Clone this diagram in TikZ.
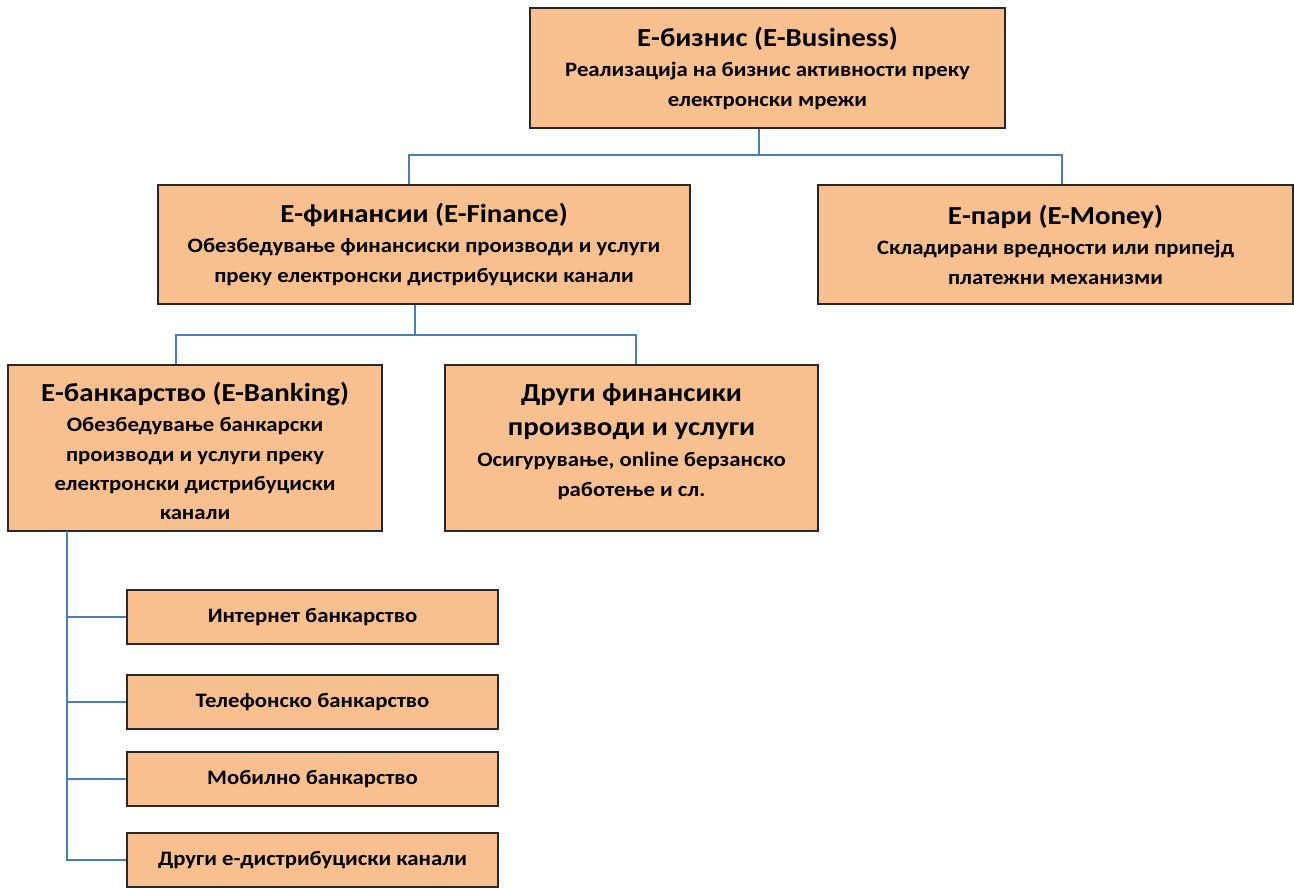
\documentclass[tikz,border=0pt]{standalone}
\usepackage{fontspec}
\setmainfont{Carlito}[FakeStretch=1.11]
\definecolor{boxfill}{RGB}{249,192,143}
\definecolor{linkblue}{RGB}{74,126,187}
\definecolor{boxedge}{RGB}{40,40,40}
\newcommand{\tlfont}[1]{{\fontsize{26}{32}\selectfont #1}}
\begin{document}
\begin{tikzpicture}[x=1pt,y=-1pt,
  box/.style={draw=boxedge,line width=1.2pt,fill=boxfill,rectangle,align=center,inner sep=0pt,font=\fontsize{20.5}{30}\selectfont\bfseries},
  conn/.style={draw=linkblue,line width=1.5pt},
  small/.style={box,minimum width=371pt,minimum height=54pt},
]
\useasboundingbox (0,0) rectangle (1294,887);
\node[box,minimum width=475pt,minimum height=120pt] (top) at (767.5,68)
  {\tlfont{Е-бизнис (E-Business)}\\Реализација на бизнис активности преку\\електронски мрежи};
\node[box,minimum width=532pt,minimum height=119pt] (fin) at (424,244.5)
  {\tlfont{Е-финансии (E-Finance)}\\Обезбедување финансиски производи и услуги\\преку електронски дистрибуциски канали};
\node[box,minimum width=475pt,minimum height=119pt] (money) at (1055.5,244.5)
  {\tlfont{Е-пари (E-Money)}\\Складирани вредности или припејд\\платежни механизми};
\node[box,minimum width=374pt,minimum height=166pt] (bank) at (195,448)
  {\tlfont{\rule{0pt}{26pt}Е-банкарство (E-Banking)}\\Обезбедување банкарски\\производи и услуги преку\\[-1pt]електронски дистрибуциски\\[-1pt]канали};
\node[box,minimum width=373pt,minimum height=166pt] (other) at (631.5,448)
  {\tlfont{Други финансики}\\[4pt]\tlfont{производи и услуги}\\[1pt]Осигурување, online берзанско\\работење и сл.\\[-15pt]\mbox{}};
\node[small] (s1) at (312.5,617) {Интернет банкарство};
\node[small] (s2) at (312.5,702) {Телефонско банкарство};
\node[small] (s3) at (312.5,779) {Мобилно банкарство};
\node[small] (s4) at (312.5,860) {Други е-дистрибуциски канали};
% connectors
\coordinate (j1) at (759,155);
\draw[conn] ([xshift=-8.5pt]top.south) -- (j1);
\draw[conn] ([xshift=-15pt]fin.north) |- (j1) -| ([xshift=6.5pt]money.north);
\coordinate (j2) at (415,335);
\draw[conn] ([xshift=-9pt]fin.south) -- (j2);
\draw[conn] ([xshift=-19pt]bank.north) |- (j2) -| ([xshift=4.5pt]other.north);
\coordinate (trunk) at (67,531);
\draw[conn] (trunk) |- (s4.west);
\draw[conn] (s1.west) -- (s1.west -| trunk);
\draw[conn] (s2.west) -- (s2.west -| trunk);
\draw[conn] (s3.west) -- (s3.west -| trunk);
\end{tikzpicture}
\end{document}
